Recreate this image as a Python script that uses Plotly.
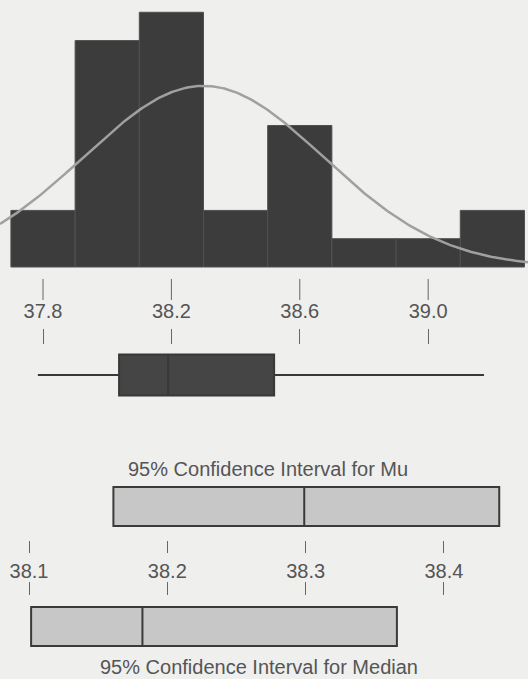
import numpy as np
import plotly.graph_objects as go

# ---------------- data ----------------
bin_mids = [37.8, 38.0, 38.2, 38.4, 38.6, 38.8, 39.0, 39.2]
bin_counts = [2, 8, 9, 2, 5, 1, 1, 2]
bin_width = 0.2

fit_mean = 38.30
fit_sd = 0.374
n_obs = 30

box_stats = dict(lowerfence=37.784, q1=38.037, median=38.19, q3=38.52, upperfence=39.174)

top_ticks = [37.8, 38.2, 38.6, 39.0]
top_tick_labels = ["37.8", "38.2", "38.6", "39.0"]

ci_names = ["Mu", "Median"]
ci_low = [38.161, 38.1015]
ci_mid = [38.299, 38.182]
ci_high = [38.440, 38.366]

ci_ticks = [38.1, 38.2, 38.3, 38.4]
ci_tick_labels = ["38.1", "38.2", "38.3", "38.4"]

title_mu = "95% Confidence Interval for Mu"
title_median = "95% Confidence Interval for Median"

# ---------------- layout helpers ----------------
W, H = 528, 679
def py(p):  # pixel y -> paper
    return 1 - p / H

R_TOP = [37.666, 39.311]
R_CI = [38.079, 38.4608]

BG = "#efefed"
BAR = "#3c3c3c"
TXT = "#555555"
TICK = "#666666"
FONT = "Liberation Sans, Arial, sans-serif"

# normal curve
xc = np.linspace(R_TOP[0], R_TOP[1], 300)
yc = n_obs * bin_width / (fit_sd * np.sqrt(2 * np.pi)) * np.exp(-0.5 * ((xc - fit_mean) / fit_sd) ** 2)

fig = go.Figure()

fig.add_trace(go.Bar(
    x=bin_mids, y=bin_counts, width=bin_width,
    marker=dict(color=BAR, line=dict(color="#505050", width=1)),
    xaxis="x", yaxis="y", showlegend=False, hoverinfo="skip"))

fig.add_trace(go.Scatter(
    x=xc, y=yc, mode="lines", line=dict(color="#a0a0a0", width=2.5),
    xaxis="x", yaxis="y", showlegend=False, hoverinfo="skip"))

# tick marks above the top tick labels (vertical line markers on the value scale)
fig.add_trace(go.Scatter(x=top_ticks, y=[0.5] * len(top_ticks), mode="markers",
                         marker=dict(symbol="line-ns", size=15,
                                     line=dict(color=TICK, width=1)),
                         xaxis="x3", yaxis="y3", showlegend=False, hoverinfo="skip",
                         cliponaxis=False))

# boxplot
fig.add_trace(go.Box(
    orientation="h", y=[0.538],
    q1=[box_stats["q1"]], median=[box_stats["median"]], q3=[box_stats["q3"]],
    lowerfence=[box_stats["lowerfence"]], upperfence=[box_stats["upperfence"]],
    width=0.63, whiskerwidth=0, fillcolor="#454545", line=dict(color="#383838", width=2),
    xaxis="x2", yaxis="y2", showlegend=False, hoverinfo="skip", boxpoints=False))

# confidence-interval boxes
fig.add_trace(go.Box(
    orientation="h", y=ci_names,
    q1=ci_low, median=ci_mid, q3=ci_high, lowerfence=ci_low, upperfence=ci_high,
    width=0.325, whiskerwidth=0, fillcolor="#c7c7c7", line=dict(color="#3a3a3a", width=2),
    xaxis="x4", yaxis="y4", showlegend=False, hoverinfo="skip", boxpoints=False))

# invisible helper trace for the overlaying tick axis
fig.add_trace(go.Scatter(x=ci_ticks, y=[ci_names[0]] * len(ci_ticks), mode="markers",
                         marker=dict(opacity=0), xaxis="x5", yaxis="y4",
                         showlegend=False, hoverinfo="skip"))

tickfont = dict(family=FONT, size=20, color=TXT)

fig.update_layout(
    width=W, height=H,
    margin=dict(l=0, r=0, t=0, b=0),
    paper_bgcolor=BG, plot_bgcolor="rgba(0,0,0,0)",
    bargap=0,
    xaxis=dict(range=R_TOP, domain=[0, 1], anchor="y", visible=False, showgrid=False),
    yaxis=dict(range=[-0.106, 9.434], domain=[py(270), 1], visible=False, showgrid=False),
    xaxis3=dict(range=R_TOP, domain=[0, 1], anchor="y3", side="bottom",
                tickvals=top_ticks, ticktext=top_tick_labels, ticks="",
                showline=False, showgrid=False, zeroline=False, tickfont=tickfont),
    yaxis3=dict(range=[0, 1], domain=[py(297), py(282)], visible=False, showgrid=False),
    xaxis2=dict(range=R_TOP, domain=[0, 1], anchor="y2", side="top",
                tickvals=top_ticks, ticks="outside", ticklen=15, tickwidth=1,
                tickcolor=TICK, showticklabels=False, showline=False,
                showgrid=False, zeroline=False),
    yaxis2=dict(range=[0, 1], domain=[py(410), py(345)], visible=False, showgrid=False),
    xaxis4=dict(range=R_CI, domain=[0, 1], anchor="free", position=py(540),
                tickvals=ci_ticks, ticktext=ci_tick_labels, ticks="outside",
                ticklen=12, tickwidth=1, tickcolor=TICK, showline=False,
                showgrid=False, zeroline=False, tickfont=tickfont, ticklabelstandoff=1),
    xaxis5=dict(range=R_CI, overlaying="x4", anchor="free", position=py(595), side="top",
                tickvals=ci_ticks, ticks="outside", ticklen=13, tickwidth=1,
                tickcolor=TICK, showticklabels=False, showline=False,
                showgrid=False, zeroline=False),
    yaxis4=dict(type="category", categoryarray=ci_names, range=[1.279, -0.304],
                domain=[py(660), py(470)], visible=False, showgrid=False),
    annotations=[
        dict(text=title_mu, x=268 / W, y=py(469), xref="paper", yref="paper",
             showarrow=False, xanchor="center", yanchor="middle",
             font=dict(family=FONT, size=20, color=TXT)),
        dict(text=title_median, x=259 / W, y=py(667), xref="paper", yref="paper",
             showarrow=False, xanchor="center", yanchor="middle",
             font=dict(family=FONT, size=20, color=TXT)),
    ],
)

fig.write_html(
    "out.html",
    config={"displayModeBar": False, "staticPlot": True},
    post_script="document.body.style.margin='0';document.body.style.padding='0';"
                "document.body.style.overflow='hidden';",
)
